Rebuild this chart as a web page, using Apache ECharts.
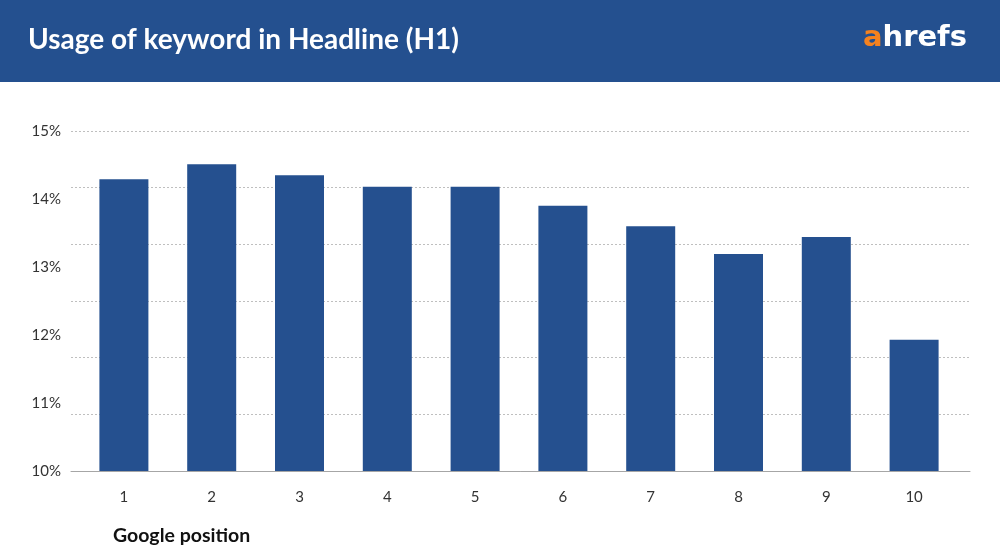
<!DOCTYPE html>
<html>
<head>
<meta charset="utf-8">
<script src="https://cdn.jsdelivr.net/npm/echarts@6/dist/echarts.min.js"></script>
<style>html,body{margin:0;padding:0;background:#fff}#c{width:1000px;height:560px}</style>
</head>
<body>
<div id="c"></div>
<script>
var categories = ['1','2','3','4','5','6','7','8','9','10'];
var usage = [14.29, 14.51, 14.35, 14.18, 14.18, 13.90, 13.60, 13.19, 13.44, 11.93];
var yTicks = [10, 11, 12, 13, 14, 15];

var chart = echarts.init(document.getElementById('c'));
chart.setOption({
  backgroundColor: '#ffffff',
  animation: false,
  graphic: [
    { type: 'rect', left: 0, top: 0, shape: { width: 1000, height: 82 }, style: { fill: '#24508f' }, z: -1 },
    { type: 'text', left: 113, top: 526, style: { text: 'Google position', fill: '#111', font: 'bold 19.5px Lato' } }
  ],
  title: [
    { text: 'Usage of keyword in Headline (H1)', left: 23, top: 21,
      textStyle: { color: '#ffffff', fontFamily: 'Lato', fontWeight: 'bold', fontSize: 28 } },
    { text: '{a|a}{b|hrefs}', right: 28, top: 19,
      textStyle: { rich: {
        a: { color: '#f5821f', fontFamily: 'DejaVu Sans', fontWeight: 'bold', fontSize: 29 },
        b: { color: '#ffffff', fontFamily: 'DejaVu Sans', fontWeight: 'bold', fontSize: 29 }
      } } }
  ],
  grid: [
    { left: 80, right: 42, top: 131, bottom: 89 },
    { left: 71, right: 30, top: 131, bottom: 89 }
  ],
  xAxis: [
    { type: 'category', data: categories, gridIndex: 0,
      axisLine: { show: false },
      axisTick: { show: false },
      axisLabel: { color: '#333', fontFamily: 'Lato', fontSize: 15, margin: 19 } },
    { type: 'value', gridIndex: 1, min: 0, max: 1, show: true,
      axisLine: { show: true, lineStyle: { color: '#a6a6a6', width: 1 } },
      axisTick: { show: false }, axisLabel: { show: false }, splitLine: { show: false } }
  ],
  yAxis: [
    { type: 'value', gridIndex: 0, min: 10, max: 15, interval: 1,
      axisLabel: { color: '#333', fontFamily: 'Lato', fontSize: 15, margin: 19,
        formatter: function (v) { return yTicks.indexOf(v) >= 0 ? v + '%' : ''; } },
      axisLine: { show: false }, axisTick: { show: false }, splitLine: { show: false } },
    { type: 'value', gridIndex: 1, min: 0, max: 6, interval: 1,
      axisLabel: { show: false }, axisLine: { show: false }, axisTick: { show: false },
      splitLine: { show: true, lineStyle: { color: '#bfbfbf', type: [2, 2], width: 1 } } }
  ],
  series: [{
    type: 'bar', data: usage, xAxisIndex: 0, yAxisIndex: 0, barWidth: 49,
    itemStyle: { color: '#25508f' }, z: 3
  }]
});
</script>
</body>
</html>
